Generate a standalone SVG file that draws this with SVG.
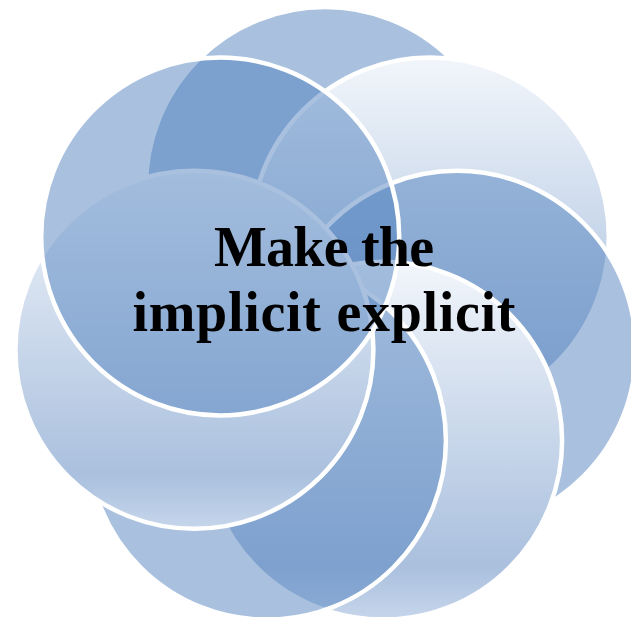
<svg xmlns="http://www.w3.org/2000/svg" width="631" height="617" viewBox="0 0 631 617">
<defs>
<linearGradient id="grad" x1="0" y1="0" x2="0" y2="1">
<stop offset="0" stop-color="#f2f6fb"/>
<stop offset="0.85" stop-color="#aac0de"/>
<stop offset="1" stop-color="#c6d6eb"/>
</linearGradient>
</defs>
<style>
.t{fill:#4F81BD;fill-opacity:0.49;stroke:#ffffff;stroke-width:4.5}
.g{fill:url(#grad);stroke:#ffffff;stroke-width:4.5}
.lbl{font-family:"Liberation Serif","Times New Roman",serif;font-weight:bold;font-size:56px;fill:#000000;text-anchor:middle}
</style>
<rect width="631" height="617" fill="#ffffff"/>
<g id="circle-top"><circle class="t" cx="325" cy="186" r="179"/></g>
<g id="circle-upper-right"><circle class="g" cx="429.8" cy="236.5" r="179"/></g>
<g id="circle-right"><circle class="t" cx="457" cy="349.8" r="179"/></g>
<g id="circle-lower-right"><circle class="g" cx="383.1" cy="440.7" r="179"/></g>
<g id="circle-lower-left"><circle class="t" cx="266.9" cy="440.7" r="179"/></g>
<g id="circle-left"><circle class="g" cx="194.4" cy="349.8" r="179"/></g>
<g id="circle-upper-left"><circle class="t" cx="220.2" cy="236.5" r="179"/></g>
<g id="connectors"></g>
<g id="label">
<text class="lbl" x="324" y="266" textLength="220" lengthAdjust="spacing">Make the</text>
<text class="lbl" x="324" y="331" textLength="383" lengthAdjust="spacing">implicit explicit</text>
</g>
</svg>
